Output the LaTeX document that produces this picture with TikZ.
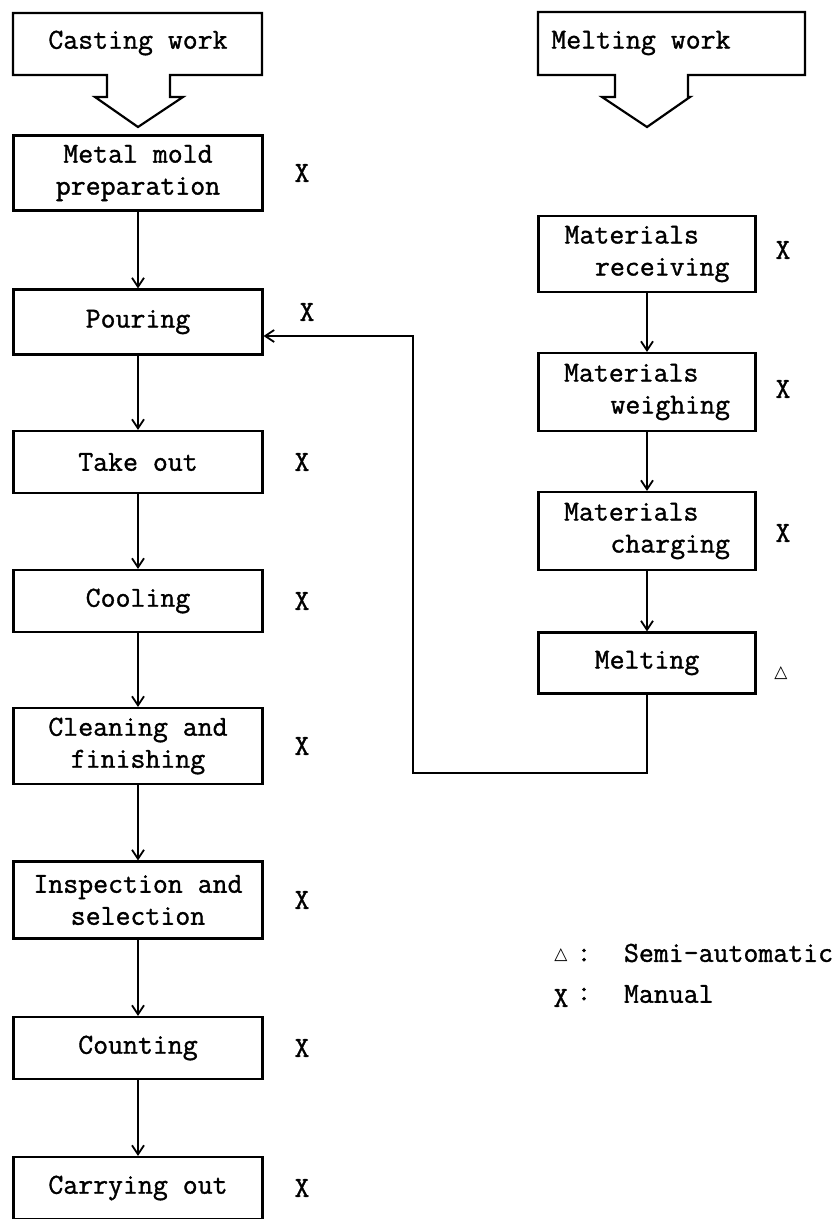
\documentclass[tikz,border=0pt]{standalone}
\usepackage{fontspec}
\setmonofont{Latin Modern Mono}[FakeBold=1.2]
\newfontfamily\symfont{DejaVu Sans}
\usetikzlibrary{arrows.meta}

\begin{document}
\begin{tikzpicture}[x=1pt,y=-1pt,line width=2pt,
    >={Straight Barb[length=9pt,width=12pt,line width=1.8pt]},
    txt/.style={font=\ttfamily\fontsize{29}{32}\selectfont},
    lbox/.style={txt,draw,line width=2.2pt,minimum width=249pt,minimum height=62pt,align=center,inner sep=0pt},
    rbox/.style={txt,draw,line width=2.2pt,minimum width=217pt,minimum height=62pt,align=left,inner sep=0pt},
    tag/.style={txt,inner sep=0pt}]
  \useasboundingbox (0,0) rectangle (840,1219);

  % block arrows on top
  \draw[line width=2.2pt] (13,13) -- (262,13) -- (262,75) -- (170,75) -- (170,97) -- (183,97) -- (138,127)
      -- (95,97) -- (107,97) -- (107,75) -- (13,75) -- cycle;
  \node[txt] (castwork) at (138,43) {Casting work};
  \draw[line width=2.2pt] (538,12) -- (805,12) -- (805,75) -- (688,75) -- (688,97) -- (690,97) -- (647,127)
      -- (602,97) -- (615,97) -- (615,75) -- (538,75) -- cycle;
  \node[txt,anchor=west] (meltwork) at (547,43) {Melting work};

  % casting column
  \node[lbox,minimum height=75pt] (mold) at (138,173) {Metal mold\\preparation};
  \node[lbox,minimum height=65pt] (pour) at (138,322) {Pouring};
  \node[lbox] (takeout) at (138,462) {Take out};
  \node[lbox] (cool) at (138,601) {Cooling};
  \node[lbox,minimum height=76pt] (clean) at (138,746) {Cleaning and\\finishing};
  \node[lbox,minimum height=77pt] (inspect) at (138,900) {Inspection and\\selection};
  \node[lbox] (count) at (138,1048) {Counting};
  \node[lbox] (carry) at (138,1188) {Carrying out};

  % melting column
  \node[rbox,minimum height=76pt] (receive) at (647,254) {Materials\\\hspace*{1.05em}receiving};
  \node[rbox,minimum height=78pt] (weigh) at (647,392) {Materials\\\hspace*{1.6em}weighing};
  \node[rbox,minimum height=78pt] (charge) at (647,531) {Materials\\\hspace*{1.6em}charging};
  \node[rbox,minimum height=61pt] (melt) at (647,663) {Melting};

  % marks
  \node[tag] (xmold) at (302,173) {X};
  \node[tag] (xpour) at (307,312) {X};
  \node[tag] (xtake) at (302,462) {X};
  \node[tag] (xcool) at (302,601) {X};
  \node[tag] (xclean) at (302,746) {X};
  \node[tag] (xinsp) at (302,900) {X};
  \node[tag] (xcount) at (302,1048) {X};
  \node[tag] (xcarry) at (302,1188) {X};
  \node[tag] (xrecv) at (783,250) {X};
  \node[tag] (xweigh) at (783,389) {X};
  \node[tag] (xcharge) at (783,533) {X};
  \node[font=\symfont\fontsize{17}{20}\selectfont,inner sep=0pt] (tmelt) at (781,673) {△};

  % legend
  \node[font=\symfont\fontsize{17}{20}\selectfont,inner sep=0pt] (ltri) at (561,955) {△};
  \node[tag] (lcolon1) at (584,955) {:};
  \node[tag,anchor=west] (lsemi) at (623,953) {Semi-automatic};
  \node[tag] (lx) at (561,998) {X};
  \node[tag] (lcolon2) at (584,994) {:};
  \node[tag,anchor=west] (lman) at (623,994) {Manual};

  % flow
  \foreach \a/\b in {mold/pour,pour/takeout,takeout/cool,cool/clean,clean/inspect,inspect/count,count/carry,
                     receive/weigh,weigh/charge,charge/melt}
    \draw[->] (\a) -- (\b);
  \coordinate (loop) at (413,773);
  \draw[->] (melt.south) |- (loop) |- ([yshift=-14pt]pour.east);
\end{tikzpicture}
\end{document}
